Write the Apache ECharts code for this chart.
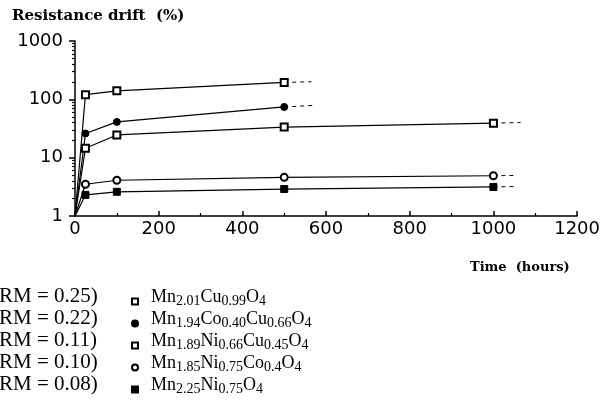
<!DOCTYPE html>
<html>
<head>
<meta charset="utf-8">
<script src="https://cdn.jsdelivr.net/npm/echarts@6/dist/echarts.min.js"></script>
<style>
  html, body { margin: 0; padding: 0; background: #fff; }
  #chart { width: 603px; height: 405px; }
</style>
</head>
<body>
<div id="chart"></div>
<script>
// hours of ageing, resistance drift in %
var hours = [0, 25, 100, 500, 1000];
var cuDrift = [1, 120, 140, 195];
var coCuDrift = [1, 26, 41, 74];
var niCuDrift = [1, 14.5, 24.5, 33.5, 39];
var niCoDrift = [1, 3.5, 4.1, 4.6, 4.9];
var niDrift = [1, 2.3, 2.6, 2.9, 3.15];
// dashed extrapolation end points [hours, drift]
var cuExt = [565, 200];
var coCuExt = [575, 79];
var niCuExt = [1065, 40];
var niCoExt = [1048, 4.95];
var niExt = [1050, 3.2];

var formulas = ['Mn2.01Cu0.99O4', 'Mn1.94Co0.40Cu0.66O4', 'Mn1.89Ni0.66Cu0.45O4', 'Mn1.85Ni0.75Co0.4O4', 'Mn2.25Ni0.75O4'];
var rmLabels = ['RM = 0.25)', 'RM = 0.22)', 'RM = 0.11)', 'RM = 0.10)', 'RM = 0.08)'];
var xTicks = [0, 200, 400, 600, 800, 1000, 1200];

var allDrift = [cuDrift, coCuDrift, niCuDrift, niCoDrift, niDrift];
var allExt = [cuExt, coCuExt, niCuExt, niCoExt, niExt];
var symbols = ['emptyRect', 'circle', 'emptyRect', 'emptyCircle', 'rect'];
var borderWidths = [1.2, 1, 2.2, 1.8, 1];

function pairs(vals) {
    return vals.map(function (v, i) { return [hours[i], v]; });
}

var series = [];
allDrift.forEach(function (vals, i) {
    var pts = pairs(vals).map(function (p, j) {
        // the common origin has no marker
        return j === 0 ? { value: p, symbol: 'none' } : p;
    });
    series.push({
        name: formulas[i],
        type: 'line',
        data: pts,
        symbol: symbols[i],
        symbolSize: 7,
        showAllSymbol: true,
        lineStyle: { color: '#000', width: 1.2 },
        itemStyle: { color: '#000', borderColor: '#000', borderWidth: borderWidths[i] },
        z: 3
    });
    var last = pairs(vals)[vals.length - 1];
    series.push({
        name: 'ext' + i,
        type: 'line',
        data: [last, allExt[i]],
        symbol: 'none',
        lineStyle: { color: '#000', width: 1, type: [4, 4] },
        z: 2
    });
});

var rowStep = 22;
var rowTop = 287;
var graphics = rmLabels.map(function (t, i) {
    return {
        type: 'text',
        left: -1,
        top: rowTop + i * rowStep - 1,
        style: { text: t, font: '21px "Liberation Serif"', fill: '#000' }
    };
});
graphics.push({
    type: 'text',
    left: 470,
    top: 261,
    style: { text: 'Time  (hours)', font: 'bold 13px "DejaVu Serif"', fill: '#000' }
});

var chart = echarts.init(document.getElementById('chart'));
chart.setOption({
    animation: false,
    title: {
        text: 'Resistance drift  (%)',
        left: 7,
        top: 4,
        textStyle: { fontFamily: 'DejaVu Serif', fontWeight: 'bold', fontSize: 15, color: '#000' }
    },
    grid: { left: 75, right: 22, top: 41, bottom: 189 },
    xAxis: {
        type: 'value',
        min: 0,
        max: 1200,
        interval: 200,
        axisLine: { lineStyle: { color: '#000', width: 1.5 } },
        axisTick: { inside: true, length: 5, lineStyle: { color: '#000', width: 1.5 } },
        minorTick: { show: true, splitNumber: 2, length: 3, lineStyle: { color: '#000', width: 1.2 } },
        splitLine: { show: false },
        axisLabel: {
            color: '#000', fontSize: 18, fontFamily: 'DejaVu Sans', margin: 4,
            formatter: function (v) { return xTicks.indexOf(v) >= 0 ? String(v) : ''; }
        }
    },
    yAxis: {
        type: 'log',
        logBase: 10,
        min: 1,
        max: 1000,
        axisLine: { show: true, lineStyle: { color: '#000', width: 1.5 } },
        axisTick: { show: true, length: 6, lineStyle: { color: '#000', width: 1.5 } },
        minorTick: { show: true, splitNumber: 9, length: 3, lineStyle: { color: '#000', width: 1.2 } },
        splitLine: { show: false },
        axisLabel: {
            color: '#000', fontSize: 18, fontFamily: 'DejaVu Sans', margin: 12,
            formatter: function (v) { return String(Math.round(v)); }
        }
    },
    legend: {
        orient: 'vertical',
        left: 126,
        top: rowTop - 4,
        itemWidth: 6,
        itemHeight: 6,
        itemGap: 1.5,
        data: formulas.map(function (f, i) { return { name: f, icon: symbols[i] }; }),
        formatter: function (name) {
            return name.replace(/([A-Za-z]+)/g, '{n|$1}').replace(/(\d[\d.]*)/g, '{s|$1}');
        },
        textStyle: {
            color: '#000',
            padding: [0, 0, 0, 8],
            rich: {
                n: { fontFamily: 'Liberation Serif', fontSize: 18, lineHeight: 18, verticalAlign: 'top', color: '#000' },
                s: { fontFamily: 'Liberation Serif', fontSize: 14, lineHeight: 27, verticalAlign: 'middle', color: '#000' }
            }
        }
    },
    graphic: graphics,
    series: series
});
</script>
</body>
</html>
